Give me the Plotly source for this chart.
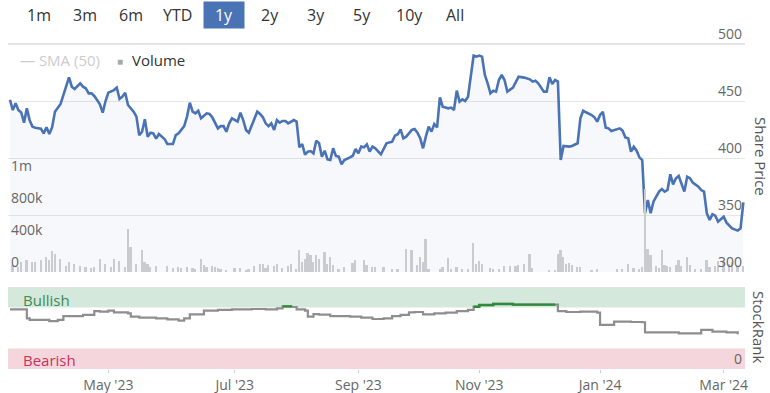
import plotly.graph_objects as go

# ---------------- data ----------------
price_points = [
    ("2023-03-13", 450.9), ("2023-03-14", 442), ("2023-03-15", 448), ("2023-03-16", 442), ("2023-03-17", 440),
    ("2023-03-20", 431), ("2023-03-21", 443.6), ("2023-03-22", 433), ("2023-03-23", 427.5), ("2023-03-24", 426.6),
    ("2023-03-28", 425.7), ("2023-03-29", 421.6), ("2023-03-30", 427), ("2023-03-31", 421), ("2023-04-03", 427),
    ("2023-04-04", 440.6), ("2023-04-06", 447.4), ("2023-04-07", 455.8), ("2023-04-10", 464), ("2023-04-11", 470.8),
    ("2023-04-12", 462.6), ("2023-04-13", 460.5), ("2023-04-17", 465.5), ("2023-04-18", 462.6), ("2023-04-19", 461),
    ("2023-04-20", 456.7), ("2023-04-21", 456.7), ("2023-04-24", 454.4), ("2023-04-25", 450.9), ("2023-04-26", 447),
    ("2023-04-27", 439.8), ("2023-04-28", 450), ("2023-05-01", 457.3), ("2023-05-02", 458.2), ("2023-05-03", 459.6),
    ("2023-05-04", 461.7), ("2023-05-05", 451.8), ("2023-05-08", 453.8), ("2023-05-09", 457.3), ("2023-05-10", 446.5),
    ("2023-05-12", 440.6), ("2023-05-15", 436.3), ("2023-05-16", 420), ("2023-05-17", 423), ("2023-05-18", 434),
    ("2023-05-19", 418.7), ("2023-05-22", 422.2), ("2023-05-23", 421.6), ("2023-05-24", 417), ("2023-05-25", 421),
    ("2023-05-29", 416.7), ("2023-05-30", 412.3), ("2023-06-01", 412.3), ("2023-06-02", 420), ("2023-06-05", 421.6),
    ("2023-06-07", 428), ("2023-06-08", 436.3), ("2023-06-09", 448.5), ("2023-06-12", 440.6), ("2023-06-13", 439.2),
    ("2023-06-14", 441.5), ("2023-06-15", 434.8), ("2023-06-19", 439.2), ("2023-06-20", 438.6), ("2023-06-21", 435.7),
    ("2023-06-23", 426), ("2023-06-26", 428), ("2023-06-27", 428), ("2023-06-28", 423), ("2023-06-29", 430.4),
    ("2023-06-30", 434.8), ("2023-07-04", 431.9), ("2023-07-05", 439.8), ("2023-07-06", 433.3), ("2023-07-07", 424.6),
    ("2023-07-10", 422.2), ("2023-07-12", 434.8), ("2023-07-13", 440.6), ("2023-07-14", 438.6), ("2023-07-17", 435.7),
    ("2023-07-18", 430.4), ("2023-07-19", 428), ("2023-07-20", 430.4), ("2023-07-21", 424.6), ("2023-07-24", 433.3),
    ("2023-07-25", 431), ("2023-07-26", 432.5), ("2023-07-27", 432.5), ("2023-07-28", 430.4), ("2023-07-31", 431.9),
    ("2023-08-01", 433.3), ("2023-08-02", 431.9), ("2023-08-03", 409.4), ("2023-08-04", 412.3), ("2023-08-07", 403),
    ("2023-08-08", 405.6), ("2023-08-09", 406.1), ("2023-08-10", 404), ("2023-08-11", 415.2), ("2023-08-14", 412.9),
    ("2023-08-15", 401.2), ("2023-08-16", 406.4), ("2023-08-17", 398.8), ("2023-08-18", 398.2), ("2023-08-21", 408.5),
    ("2023-08-22", 401.8), ("2023-08-23", 401.2), ("2023-08-24", 394.4), ("2023-08-25", 398.2), ("2023-08-29", 400.6),
    ("2023-08-30", 402), ("2023-08-31", 407.9), ("2023-09-01", 404.1), ("2023-09-04", 410), ("2023-09-05", 409.4),
    ("2023-09-06", 412), ("2023-09-07", 405.6), ("2023-09-08", 410), ("2023-09-11", 408.5), ("2023-09-13", 403.2),
    ("2023-09-14", 408.5), ("2023-09-15", 412.9), ("2023-09-18", 413.7), ("2023-09-19", 414.3), ("2023-09-20", 419.6),
    ("2023-09-21", 420.8), ("2023-09-22", 425.1), ("2023-09-25", 417.3), ("2023-09-26", 418.7), ("2023-09-27", 421.6),
    ("2023-09-28", 424.6), ("2023-09-29", 425.4), ("2023-10-02", 422.2), ("2023-10-03", 417.3), ("2023-10-04", 408.5),
    ("2023-10-05", 418.7), ("2023-10-06", 427.5), ("2023-10-09", 423.1), ("2023-10-10", 429.8), ("2023-10-11", 426.9),
    ("2023-10-12", 453.2), ("2023-10-13", 445), ("2023-10-17", 443.6), ("2023-10-18", 444.2), ("2023-10-19", 442.1),
    ("2023-10-20", 459.1), ("2023-10-23", 449.4), ("2023-10-24", 451.5), ("2023-10-25", 450), ("2023-10-26", 453.8),
    ("2023-10-27", 472.8), ("2023-10-30", 489.8), ("2023-10-31", 488.9), ("2023-11-01", 489.8), ("2023-11-02", 488.9),
    ("2023-11-03", 472.8), ("2023-11-06", 465.5), ("2023-11-07", 456.7), ("2023-11-08", 459.1), ("2023-11-09", 458.2),
    ("2023-11-10", 468.4), ("2023-11-13", 472.8), ("2023-11-14", 468.4), ("2023-11-15", 458.2), ("2023-11-17", 461.7),
    ("2023-11-20", 467), ("2023-11-21", 471.3), ("2023-11-23", 470.5), ("2023-11-27", 469), ("2023-11-28", 467),
    ("2023-11-29", 467.8), ("2023-11-30", 465.5), ("2023-12-04", 458.2), ("2023-12-05", 458.2), ("2023-12-06", 470.8),
    ("2023-12-07", 464.9), ("2023-12-08", 468.4), ("2023-12-11", 467), ("2023-12-12", 398.2), ("2023-12-13", 410.5),
    ("2023-12-15", 410), ("2023-12-18", 410.5), ("2023-12-20", 412.9), ("2023-12-21", 434.8), ("2023-12-22", 441.5),
    ("2023-12-25", 440.1), ("2023-12-27", 437.7), ("2023-12-28", 435.7), ("2023-12-29", 431.9), ("2024-01-01", 437.7),
    ("2024-01-02", 440.6), ("2024-01-03", 426.6), ("2024-01-04", 426), ("2024-01-05", 423.7), ("2024-01-09", 425.1),
    ("2024-01-10", 426), ("2024-01-11", 424), ("2024-01-12", 418.1), ("2024-01-15", 417.3), ("2024-01-16", 405.6),
    ("2024-01-17", 410), ("2024-01-18", 406.4), ("2024-01-19", 400.6), ("2024-01-22", 398.2), ("2024-01-23", 351.5),
    ("2024-01-24", 363.2), ("2024-01-25", 351.5), ("2024-01-26", 361.7), ("2024-01-29", 366.1), ("2024-01-30", 370.5),
    ("2024-01-31", 372.8), ("2024-02-01", 370.5), ("2024-02-02", 371.9), ("2024-02-05", 385.7), ("2024-02-06", 376.9),
    ("2024-02-07", 382.2), ("2024-02-08", 384.2), ("2024-02-09", 377.8), ("2024-02-12", 370.5), ("2024-02-13", 383.6),
    ("2024-02-14", 382.2), ("2024-02-15", 378.4), ("2024-02-19", 374.9), ("2024-02-20", 371.9), ("2024-02-21", 370.5),
    ("2024-02-22", 351.5), ("2024-02-23", 345.6), ("2024-02-26", 350.6), ("2024-02-27", 349.4), ("2024-02-28", 344.2),
    ("2024-03-01", 348.5), ("2024-03-04", 343.3), ("2024-03-05", 341.2), ("2024-03-06", 338.3), ("2024-03-08", 336.3),
    ("2024-03-11", 338.3), ("2024-03-12", 361.1),
]

volume_points = [
    ("2023-03-14", 87500), ("2023-03-16", 62500), ("2023-03-17", 125000), ("2023-03-21", 150000), ("2023-03-23", 125000),
    ("2023-03-24", 125000), ("2023-03-28", 150000), ("2023-03-30", 187500), ("2023-03-31", 150000), ("2023-04-03", 262500),
    ("2023-04-04", 225000), ("2023-04-06", 162500), ("2023-04-10", 75000), ("2023-04-11", 125000), ("2023-04-13", 100000),
    ("2023-04-17", 75000), ("2023-04-19", 62500), ("2023-04-21", 50000), ("2023-04-24", 62500), ("2023-04-26", 162500),
    ("2023-04-28", 100000), ("2023-05-02", 62500), ("2023-05-03", 162500), ("2023-05-05", 137500), ("2023-05-09", 62500),
    ("2023-05-10", 537500), ("2023-05-11", 312500), ("2023-05-15", 100000), ("2023-05-17", 275000), ("2023-05-18", 125000),
    ("2023-05-19", 100000), ("2023-05-22", 62500), ("2023-05-24", 75000), ("2023-05-30", 75000), ("2023-06-01", 50000),
    ("2023-06-05", 62500), ("2023-06-06", 50000), ("2023-06-08", 62500), ("2023-06-12", 50000), ("2023-06-13", 37500),
    ("2023-06-15", 162500), ("2023-06-16", 87500), ("2023-06-19", 62500), ("2023-06-21", 75000), ("2023-06-22", 62500),
    ("2023-06-23", 50000), ("2023-06-26", 37500), ("2023-06-28", 25000), ("2023-07-03", 50000), ("2023-07-05", 50000),
    ("2023-07-07", 25000), ("2023-07-10", 37500), ("2023-07-12", 75000), ("2023-07-14", 100000), ("2023-07-17", 100000),
    ("2023-07-18", 50000), ("2023-07-19", 87500), ("2023-07-21", 75000), ("2023-07-24", 100000), ("2023-07-26", 50000),
    ("2023-07-28", 75000), ("2023-07-31", 100000), ("2023-08-02", 37500), ("2023-08-03", 275000), ("2023-08-04", 125000),
    ("2023-08-07", 162500), ("2023-08-08", 237500), ("2023-08-09", 212500), ("2023-08-10", 125000), ("2023-08-11", 212500),
    ("2023-08-14", 162500), ("2023-08-16", 250000), ("2023-08-17", 100000), ("2023-08-18", 187500), ("2023-08-21", 87500),
    ("2023-08-23", 37500), ("2023-08-25", 62500), ("2023-08-30", 112500), ("2023-08-31", 150000), ("2023-09-05", 150000),
    ("2023-09-06", 87500), ("2023-09-08", 62500), ("2023-09-11", 62500), ("2023-09-14", 62500), ("2023-09-19", 37500),
    ("2023-09-21", 37500), ("2023-09-26", 287500), ("2023-09-28", 275000), ("2023-10-02", 87500), ("2023-10-03", 187500),
    ("2023-10-04", 125000), ("2023-10-05", 412500), ("2023-10-06", 37500), ("2023-10-12", 37500), ("2023-10-13", 62500),
    ("2023-10-17", 175000), ("2023-10-18", 37500), ("2023-10-20", 62500), ("2023-10-24", 37500), ("2023-10-26", 37500),
    ("2023-10-30", 362500), ("2023-10-31", 100000), ("2023-11-01", 137500), ("2023-11-02", 100000), ("2023-11-07", 50000),
    ("2023-11-08", 37500), ("2023-11-10", 37500), ("2023-11-14", 75000), ("2023-11-16", 75000), ("2023-11-20", 75000),
    ("2023-11-21", 87500), ("2023-11-23", 100000), ("2023-11-27", 225000), ("2023-11-28", 50000), ("2023-12-06", 25000),
    ("2023-12-08", 25000), ("2023-12-11", 225000), ("2023-12-12", 275000), ("2023-12-13", 187500), ("2023-12-14", 100000),
    ("2023-12-15", 112500), ("2023-12-18", 87500), ("2023-12-20", 62500), ("2023-12-21", 62500), ("2023-12-27", 25000),
    ("2023-12-29", 37500), ("2024-01-09", 37500), ("2024-01-11", 37500), ("2024-01-15", 100000), ("2024-01-17", 50000),
    ("2024-01-19", 37500), ("2024-01-22", 62500), ("2024-01-23", 1037500), ("2024-01-24", 287500), ("2024-01-25", 212500),
    ("2024-01-29", 75000), ("2024-01-30", 50000), ("2024-01-31", 275000), ("2024-02-01", 87500), ("2024-02-02", 75000),
    ("2024-02-05", 62500), ("2024-02-07", 87500), ("2024-02-08", 150000), ("2024-02-09", 75000), ("2024-02-13", 187500),
    ("2024-02-14", 87500), ("2024-02-16", 37500), ("2024-02-20", 37500), ("2024-02-22", 150000), ("2024-02-23", 62500),
    ("2024-02-27", 75000), ("2024-02-28", 137500), ("2024-03-01", 137500), ("2024-03-05", 100000), ("2024-03-06", 125000),
    ("2024-03-08", 75000), ("2024-03-12", 75000),
]

rank_points = [
    ("2023-03-13", 72.8), ("2023-03-20", 72.8), ("2023-03-21", 61.8), ("2023-03-22", 59.8), ("2023-03-30", 59.8),
    ("2023-03-31", 58.5), ("2023-04-05", 59.8), ("2023-04-07", 64.6), ("2023-04-17", 64.6), ("2023-04-18", 65.9),
    ("2023-04-21", 65.9), ("2023-04-24", 70.7), ("2023-04-26", 70), ("2023-05-01", 71.1), ("2023-05-03", 69.1),
    ("2023-05-08", 69.1), ("2023-05-10", 67.9), ("2023-05-11", 63.8), ("2023-05-16", 62.6), ("2023-05-24", 61.8),
    ("2023-05-30", 60.6), ("2023-06-05", 58.9), ("2023-06-07", 61.8), ("2023-06-09", 66.7), ("2023-06-15", 66.7),
    ("2023-06-16", 71.1), ("2023-06-23", 72), ("2023-06-30", 72.8), ("2023-07-11", 73.2), ("2023-07-18", 72.8),
    ("2023-07-24", 74), ("2023-07-26", 76.4), ("2023-07-31", 75.6), ("2023-08-02", 72.8), ("2023-08-07", 71.1),
    ("2023-08-08", 63.8), ("2023-08-10", 67), ("2023-08-14", 66.3), ("2023-08-18", 64.6), ("2023-08-29", 63.8),
    ("2023-09-04", 62.6), ("2023-09-08", 61), ("2023-09-14", 61.8), ("2023-09-19", 64.6), ("2023-09-22", 65.9),
    ("2023-09-27", 69.1), ("2023-09-29", 69.5), ("2023-10-04", 66.7), ("2023-10-10", 67.9), ("2023-10-16", 68.7),
    ("2023-10-20", 70.7), ("2023-10-26", 72), ("2023-10-30", 76), ("2023-11-01", 78), ("2023-11-08", 79.3),
    ("2023-11-17", 78.5), ("2023-11-28", 78.5), ("2023-12-08", 78.5), ("2023-12-11", 70.7), ("2023-12-14", 69.5),
    ("2023-12-21", 69.9), ("2023-12-29", 68.7), ("2024-01-01", 53.7), ("2024-01-04", 53.7), ("2024-01-08", 57.7),
    ("2024-01-16", 57.3), ("2024-01-22", 57), ("2024-01-23", 44.7), ("2024-01-31", 44.7), ("2024-02-08", 43.4),
    ("2024-02-15", 43.4), ("2024-02-20", 47.6), ("2024-02-26", 45.5), ("2024-03-04", 44.7), ("2024-03-08", 42.3),
]

range_buttons = ["1m", "3m", "6m", "YTD", "1y", "2y", "3y", "5y", "10y", "All"]
active_button = "1y"

price_ticks = [300, 350, 400, 450, 500]
volume_ticks = [0, 400000, 800000, 1200000]
volume_tick_labels = ["0", "400k", "800k", "1m"]
rank_ticks = [0]
month_ticks = ["2023-05-01", "2023-07-03", "2023-09-01", "2023-11-01", "2024-01-01", "2024-03-01"]
month_labels = ["May '23", "Jul '23", "Sep '23", "Nov '23", "Jan '24", "Mar '24"]

BULLISH_MIN = 75
BEARISH_MAX = 25
view_start, view_end = "2023-03-10 07:00", "2024-03-12 14:00"

price_dates = [d for d, _ in price_points]
price_values = [v for _, v in price_points]
volume_dates = [d for d, _ in volume_points]
volume_values = [v for _, v in volume_points]
rank_dates = [d for d, _ in rank_points]
rank_values = [v for _, v in rank_points]
rank_bullish = [v if v >= BULLISH_MIN else None for v in rank_values]

# ---------------- layout helpers ----------------
W, H = 770, 393
ML, MR, MT, MB = 8, 25, 18, 24
PW, PH = W - ML - MR, H - MT - MB
FONT = "Open Sans, Noto Sans, sans-serif"

PRICE_TOP_PX, PRICE_BOT_PX = 44, 272      # pixel rows of the 500 and 300 gridlines
PX_PER_50 = (PRICE_BOT_PX - PRICE_TOP_PX) / 4


def px_x(x):
    return (x - ML) / PW


def px_y(y):
    return (H - MB - y) / PH


price_dom = [px_y(PRICE_BOT_PX), 1.0]
price_range_top = 500 + (PRICE_TOP_PX - MT) / PX_PER_50 * 50
volume_range_top = (PRICE_BOT_PX - MT) * 12500
rank_dom = [0.0, px_y(287)]

fig = go.Figure()

fig.add_trace(go.Bar(
    x=volume_dates, y=volume_values, yaxis="y2", xaxis="x",
    marker=dict(color="#c9cbd1", line=dict(width=0)),
    width=0.62 * 86400000, showlegend=False, hoverinfo="skip",
))
fig.add_trace(go.Scatter(
    x=price_dates, y=price_values, mode="lines", xaxis="x", yaxis="y",
    line=dict(color="#4a73b5", width=2.6),
    fill="tozeroy", fillcolor="rgba(74,115,181,0.05)",
    showlegend=False,
))
fig.add_trace(go.Scatter(
    x=rank_dates, y=rank_values, mode="lines", xaxis="x2", yaxis="y3",
    line=dict(color="#8e8e8e", width=2.2, shape="hv"), showlegend=False,
))
fig.add_trace(go.Scatter(
    x=rank_dates, y=rank_bullish, mode="lines", xaxis="x2", yaxis="y3",
    line=dict(color="#2e8b3a", width=2.4, shape="hv"), showlegend=False, connectgaps=False,
))

xbreaks = [dict(bounds=["sat", "mon"])]
axis_font = dict(family=FONT, size=14, color="#666666")

fig.update_layout(
    width=W, height=H,
    margin=dict(l=ML, r=MR, t=MT, b=MB, autoexpand=False),
    paper_bgcolor="white", plot_bgcolor="white",
    font=dict(family=FONT, size=14, color="#333333"),
    bargap=0,
    xaxis=dict(domain=[0, 1], anchor="y", range=[view_start, view_end], rangebreaks=xbreaks,
               showticklabels=False, showgrid=False, zeroline=False, showline=False, ticks="",
               automargin=False),
    xaxis2=dict(domain=[0, 1], anchor="y3", matches="x", range=[view_start, view_end], rangebreaks=xbreaks,
                tickvals=month_ticks, ticktext=month_labels, ticks="outside", ticklen=3,
                tickcolor="#cccccc", tickfont=axis_font, showgrid=False, zeroline=False, showline=False,
                automargin=False),
    yaxis=dict(domain=price_dom, anchor="x", side="right", range=[300, price_range_top], tickvals=price_ticks,
               ticklabelposition="inside top", tickfont=axis_font, gridcolor="#e6e6e6", gridwidth=1,
               zeroline=False, showline=False, ticks="", automargin=False),
    yaxis2=dict(overlaying="y", anchor="x", side="left", range=[0, volume_range_top], tickvals=volume_ticks,
                ticktext=volume_tick_labels, ticklabelposition="inside top", tickfont=axis_font,
                showgrid=False, zeroline=False, showline=False, ticks="", automargin=False),
    yaxis3=dict(domain=rank_dom, anchor="x2", side="right", range=[0, 100], tickvals=rank_ticks,
                ticklabelposition="inside top", tickfont=axis_font, showgrid=False,
                zeroline=False, showline=False, ticks="", automargin=False),
)

shapes = [
    dict(type="rect", xref="x2 domain", yref="y3", x0=0, x1=1, y0=BULLISH_MIN, y1=100,
         fillcolor="#d5e8dc", line=dict(width=0), layer="below"),
    dict(type="rect", xref="x2 domain", yref="y3", x0=0, x1=1, y0=0, y1=BEARISH_MAX,
         fillcolor="#f5d6dc", line=dict(width=0), layer="below"),
    dict(type="line", xref="x2 domain", yref="y3", x0=0, x1=1, y0=100, y1=100,
         line=dict(color="#e2e2e2", width=2), layer="below"),
    dict(type="line", xref="x domain", yref="y", x0=0, x1=1, y0=500, y1=500,
         line=dict(color="#e2e2e2", width=2), layer="below"),
]

annotations = []
button_x = [39, 85, 131, 177, 224, 270, 316, 362, 409, 455]
for label, bx in zip(range_buttons, button_x):
    active = label == active_button
    annotations.append(dict(
        x=px_x(bx), y=px_y(15), xref="paper", yref="paper", text=label, showarrow=False,
        font=dict(family=FONT, size=16, color="white" if active else "#333333"),
        bgcolor="#4a73b5" if active else "rgba(0,0,0,0)",
        width=36 if active else None, height=22 if active else None, borderpad=2,
        xanchor="center", yanchor="middle",
    ))

annotations += [
    dict(x=px_x(18), y=px_y(60), xref="paper", yref="paper", text="— SMA (50)", showarrow=False,
         xanchor="left", yanchor="middle", font=dict(family=FONT, size=15, color="#cccccc")),
    dict(x=px_x(120), y=px_y(61), xref="paper", yref="paper", text="■", showarrow=False,
         xanchor="center", yanchor="middle", font=dict(family=FONT, size=10, color="#a8a8a8")),
    dict(x=px_x(130), y=px_y(60), xref="paper", yref="paper", text="Volume", showarrow=False,
         xanchor="left", yanchor="middle", font=dict(family=FONT, size=15, color="#333333")),
    dict(x=px_x(21), y=px_y(300), xref="paper", yref="paper", text="Bullish", showarrow=False,
         xanchor="left", yanchor="middle", font=dict(family=FONT, size=15, color="#3f8a57")),
    dict(x=px_x(21), y=px_y(360), xref="paper", yref="paper", text="Bearish", showarrow=False,
         xanchor="left", yanchor="middle", font=dict(family=FONT, size=15, color="#c8325c")),
    dict(x=px_x(761), y=px_y(157), xref="paper", yref="paper", text="Share Price", showarrow=False,
         textangle=90, xanchor="center", yanchor="middle", font=dict(family=FONT, size=15, color="#555555")),
    dict(x=px_x(759), y=px_y(327), xref="paper", yref="paper", text="StockRank", showarrow=False,
         textangle=90, xanchor="center", yanchor="middle", font=dict(family=FONT, size=15, color="#555555")),
]

fig.update_layout(shapes=shapes, annotations=annotations)

fig.write_html("out.html", config={"displayModeBar": False},
               post_script="document.body.style.margin='0';")
